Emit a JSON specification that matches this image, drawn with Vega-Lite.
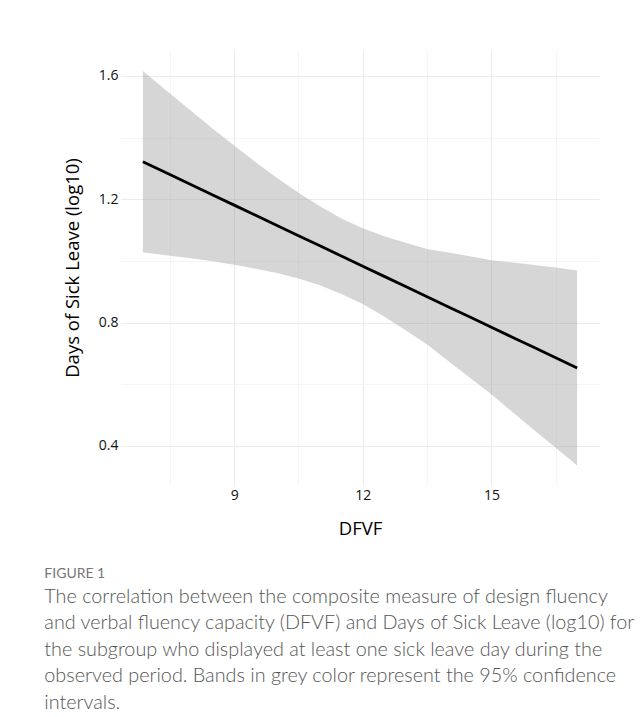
{
  "$schema": "https://vega.github.io/schema/vega-lite/v6.json",
  "width": 478,
  "height": 435,
  "autosize": "none",
  "padding": {"left": 121, "top": 50, "right": 45, "bottom": 232},
  "background": "white",
  "config": {
    "view": {"stroke": null},
    "font": "Open Sans"
  },
  "title": {
    "text": "FIGURE 1",
    "subtitle": [
      "The correlation between the composite measure of design fluency",
      "and verbal fluency capacity (DFVF) and Days of Sick Leave (log10) for",
      "the subgroup who displayed at least one sick leave day during the",
      "observed period. Bands in grey color represent the 95% confidence",
      "intervals."
    ],
    "orient": "bottom",
    "anchor": "start",
    "frame": "bounds",
    "dx": -19,
    "offset": 29,
    "font": "Lato",
    "fontSize": 14,
    "fontWeight": "normal",
    "color": "#777777",
    "subtitleFont": "Lato",
    "subtitleFontSize": 19.8,
    "subtitleFontWeight": 300,
    "subtitleColor": "#555555",
    "subtitleLineHeight": 26.5,
    "subtitlePadding": 6
  },
  "data": {
    "values": [
      {"x": 6.87, "fit": 1.322, "lo": 1.028, "hi": 1.616},
      {"x": 7.5, "fit": 1.280, "lo": 1.017, "hi": 1.543},
      {"x": 8.0, "fit": 1.247, "lo": 1.009, "hi": 1.486},
      {"x": 8.5, "fit": 1.214, "lo": 0.999, "hi": 1.429},
      {"x": 9.0, "fit": 1.181, "lo": 0.988, "hi": 1.374},
      {"x": 9.5, "fit": 1.148, "lo": 0.975, "hi": 1.320},
      {"x": 10.0, "fit": 1.115, "lo": 0.961, "hi": 1.269},
      {"x": 10.5, "fit": 1.082, "lo": 0.943, "hi": 1.221},
      {"x": 11.0, "fit": 1.049, "lo": 0.921, "hi": 1.177},
      {"x": 11.5, "fit": 1.016, "lo": 0.893, "hi": 1.138},
      {"x": 12.0, "fit": 0.983, "lo": 0.860, "hi": 1.106},
      {"x": 12.5, "fit": 0.950, "lo": 0.820, "hi": 1.080},
      {"x": 13.0, "fit": 0.917, "lo": 0.775, "hi": 1.059},
      {"x": 13.5, "fit": 0.884, "lo": 0.729, "hi": 1.039},
      {"x": 14.0, "fit": 0.851, "lo": 0.675, "hi": 1.027},
      {"x": 14.5, "fit": 0.818, "lo": 0.621, "hi": 1.015},
      {"x": 15.0, "fit": 0.785, "lo": 0.568, "hi": 1.002},
      {"x": 15.5, "fit": 0.752, "lo": 0.509, "hi": 0.995},
      {"x": 16.0, "fit": 0.719, "lo": 0.451, "hi": 0.987},
      {"x": 16.5, "fit": 0.686, "lo": 0.394, "hi": 0.979},
      {"x": 17.0, "fit": 0.653, "lo": 0.337, "hi": 0.969}
    ]
  },
  "encoding": {
    "x": {
      "field": "x", "type": "quantitative",
      "scale": {"domain": [6.36, 17.51], "nice": false, "zero": false},
      "axis": {
        "values": [7.5, 9, 10.5, 12, 13.5, 15, 16.5],
        "labelExpr": "datum.value % 3 == 0 ? datum.label : ''",
        "grid": true,
        "gridColor": {"condition": {"test": "datum.value % 3 == 0", "value": "#ebebeb"}, "value": "#f2f2f2"},
        "gridWidth": {"condition": {"test": "datum.value % 3 == 0", "value": 1.2}, "value": 0.8},
        "ticks": false, "domain": false,
        "labelFont": "Open Sans", "labelFontSize": 14, "labelColor": "#111111",
        "labelPadding": 3,
        "title": "DFVF", "titleFont": "Open Sans", "titleFontSize": 18.5,
        "titleFontWeight": "normal", "titleColor": "#000000", "titlePadding": 17
      }
    }
  },
  "layer": [
    {
      "mark": {"type": "area", "color": "#999999", "opacity": 0.4},
      "encoding": {
        "y": {
          "field": "lo", "type": "quantitative",
          "scale": {"domain": [0.2735, 1.684], "nice": false, "zero": false},
          "axis": {
            "values": [0.4, 0.6, 0.8, 1.0, 1.2, 1.4, 1.6],
            "labelExpr": "round(datum.value * 10) % 4 == 0 ? format(datum.value, '.1f') : ''",
            "grid": true,
            "gridColor": {"condition": {"test": "round(datum.value * 10) % 4 == 0", "value": "#ebebeb"}, "value": "#f2f2f2"},
            "gridWidth": {"condition": {"test": "round(datum.value * 10) % 4 == 0", "value": 1.2}, "value": 0.8},
            "ticks": false, "domain": false,
            "labelFont": "Open Sans", "labelFontSize": 14, "labelColor": "#111111",
            "labelPadding": 3,
            "title": "Days of Sick Leave (log10)", "titleFont": "Open Sans", "titleFontSize": 18.5,
            "titleFontWeight": "normal", "titleColor": "#000000", "titlePadding": 16
          }
        },
        "y2": {"field": "hi"}
      }
    },
    {
      "mark": {"type": "line", "color": "#000000", "strokeWidth": 2.8},
      "encoding": {
        "y": {"field": "fit", "type": "quantitative"}
      }
    }
  ]
}
